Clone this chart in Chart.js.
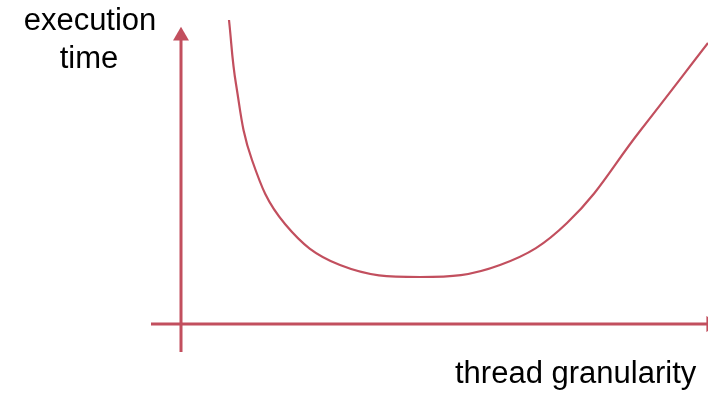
<!DOCTYPE html>
<html>
<head>
<meta charset="utf-8">
<script src="https://cdn.jsdelivr.net/npm/chart.js@4"></script>
<style>
  html, body { margin: 0; padding: 0; background: #fff; }
  #wrap { width: 708px; height: 394px; }
</style>
</head>
<body>
<div id="wrap"><canvas id="chart"></canvas></div>
<script>
// curve (granularity, time), origin at the axis crossing
const granularity = [4.8, 5.5, 7.1, 10.4, 15.9, 23.9, 31.9, 38.6, 45.9, 52.7];
const execTime = [30.4, 24.0, 16.4, 10.0, 5.9, 4.7, 5.9, 10.1, 19.3, 28.1];

const yAxisLabel = ["execution", "time"];
const xAxisLabel = "thread granularity";

const red = "#c24f5e";

const curve = granularity.map((g, i) => ({ x: g, y: execTime[i] }));

// axis lines, arrow head drawn as a point at the end
const yAxisLine = [{ x: 0, y: -2.8 }, { x: 0, y: 28.8 }];
const xAxisLine = [{ x: -3, y: 0 }, { x: 53.0, y: 0 }];

// draws the axis titles
const labelsPlugin = {
  id: "labels",
  afterDraw(chart) {
    const ctx = chart.ctx;
    ctx.save();
    ctx.fillStyle = "#000";
    ctx.font = "31px 'Liberation Sans', Arial, sans-serif";
    ctx.textBaseline = "alphabetic";
    ctx.textAlign = "center";
    ctx.fillText(yAxisLabel[0], 90, 30);
    ctx.fillText(yAxisLabel[1], 89, 68);
    ctx.textAlign = "left";
    ctx.fillText(xAxisLabel, 455, 383);
    ctx.restore();
  },
};

const ctx = document.getElementById("chart").getContext("2d");
new Chart(ctx, {
  type: "scatter",
  data: {
    datasets: [
      {
        data: yAxisLine,
        showLine: true,
        borderColor: red,
        borderWidth: 3,
        pointRadius: [0, 9.2],
        pointStyle: "triangle",
        pointBackgroundColor: red,
        pointBorderWidth: 0,
        clip: false,
      },
      {
        data: xAxisLine,
        showLine: true,
        borderColor: red,
        borderWidth: 3,
        pointRadius: [0, 9.2],
        pointStyle: "triangle",
        rotation: 90,
        pointBackgroundColor: red,
        pointBorderWidth: 0,
        clip: false,
      },
      {
        data: curve,
        showLine: true,
        borderColor: red,
        borderWidth: 2.2,
        pointRadius: 0,
        tension: 0.4,
        clip: false,
      },
    ],
  },
  options: {
    responsive: true,
    maintainAspectRatio: false,
    animation: false,
    layout: { padding: 0, autoPadding: false },
    plugins: {
      legend: { display: false },
      tooltip: { enabled: false },
    },
    scales: {
      x: { type: "linear", display: false, min: -18.1, max: 52.7 },
      y: { type: "linear", display: false, min: -7.0, max: 32.4 },
    },
  },
  plugins: [labelsPlugin],
});
</script>
</body>
</html>
